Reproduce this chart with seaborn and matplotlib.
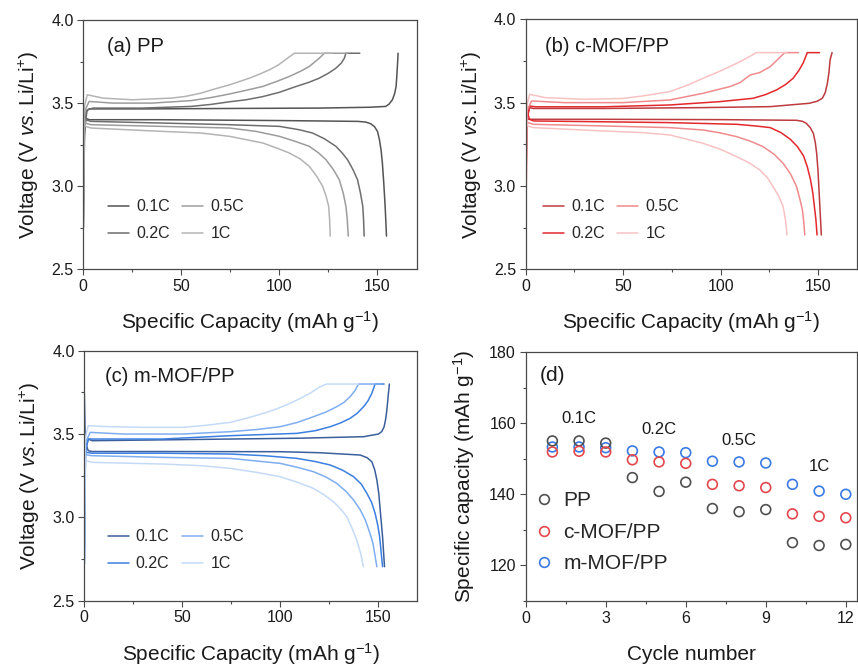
import numpy as np
import pandas as pd
import matplotlib
matplotlib.use("Agg")
import matplotlib.pyplot as plt
from matplotlib.ticker import MultipleLocator, FormatStrFormatter
from matplotlib.lines import Line2D
import seaborn as sns

# ---------------- data ----------------
rates = ["0.1C", "0.2C", "0.5C", "1C"]

# (a) PP
a01_chg_q = [0, 0.6, 1.5, 3, 30, 80, 120, 146, 154.2, 156, 157.6, 158.7, 159.5, 159.9, 160.3, 160.5]
a01_chg_v = [2.75, 3.30, 3.45, 3.465, 3.465, 3.468, 3.47, 3.475, 3.48, 3.495, 3.52, 3.555, 3.60, 3.67, 3.75, 3.80]
a01_dis_q = [0, 1, 3, 40, 100, 140, 144, 146.5, 148.5, 150, 151, 151.8, 152.5, 153.2, 153.9, 154.6]
a01_dis_v = [3.46, 3.41, 3.40, 3.40, 3.395, 3.39, 3.386, 3.376, 3.358, 3.33, 3.28, 3.22, 3.14, 3.02, 2.88, 2.70]
a02_chg_q = [0, 0.6, 2, 5, 30, 55, 65, 74.6, 83, 91.5, 100, 108.5, 115, 120.3, 125, 128.8, 131.5, 133.1, 133.9, 141]
a02_chg_v = [2.75, 3.35, 3.46, 3.47, 3.47, 3.48, 3.492, 3.508, 3.52, 3.539, 3.565, 3.60, 3.625, 3.65, 3.68, 3.71, 3.74, 3.77, 3.80, 3.80]
a02_dis_q = [0, 1, 4, 40, 74.6, 100, 110, 116.9, 123, 128.8, 132, 134.7, 137.5, 139.8, 141.3, 142.5, 142.9, 143.2]
a02_dis_v = [3.45, 3.40, 3.39, 3.38, 3.37, 3.36, 3.34, 3.32, 3.285, 3.24, 3.20, 3.16, 3.10, 3.04, 2.96, 2.88, 2.80, 2.70]
a05_chg_q = [0, 0.6, 3, 15, 35, 55, 65, 74.6, 83, 91.5, 98.5, 105, 110.5, 115.2, 120.3, 122.9, 135]
a05_chg_v = [2.75, 3.45, 3.51, 3.50, 3.50, 3.515, 3.533, 3.555, 3.577, 3.60, 3.63, 3.66, 3.69, 3.72, 3.77, 3.80, 3.80]
a05_dis_q = [0, 1, 4, 40, 74.6, 88, 100, 108, 115.2, 120, 123.7, 127.5, 130.5, 132.5, 133.9, 134.6, 135.1]
a05_dis_v = [3.44, 3.38, 3.37, 3.36, 3.35, 3.33, 3.30, 3.27, 3.24, 3.20, 3.16, 3.10, 3.04, 2.96, 2.88, 2.80, 2.70]
a1_chg_q = [0, 0.6, 2, 10, 25, 45, 52, 60, 67, 74.6, 84.7, 90, 94.9, 99.5, 103.4, 107.6, 127]
a1_chg_v = [2.75, 3.48, 3.55, 3.53, 3.52, 3.53, 3.54, 3.56, 3.585, 3.61, 3.65, 3.675, 3.70, 3.73, 3.764, 3.80, 3.80]
a1_dis_q = [0, 1, 4, 40, 60, 74.6, 91.5, 98.5, 105, 110.5, 115.2, 119, 122, 123.8, 125.1, 125.6, 125.9]
a1_dis_v = [3.42, 3.36, 3.35, 3.33, 3.32, 3.30, 3.26, 3.23, 3.20, 3.165, 3.12, 3.06, 3.00, 2.94, 2.88, 2.80, 2.70]

# (b) c-MOF/PP
b01_chg_q = [0, 0.6, 2, 4, 40, 90, 125.5, 145.4, 149.5, 152.2, 153.7, 154.8, 155.6, 156.2, 157.2]
b01_chg_v = [2.9, 3.40, 3.47, 3.465, 3.465, 3.47, 3.476, 3.496, 3.508, 3.526, 3.56, 3.616, 3.68, 3.756, 3.80]
b01_dis_q = [0, 1, 3, 40, 100, 139, 142, 144, 146, 147.6, 148.6, 149.3, 150, 150.5, 151.1, 151.7]
b01_dis_v = [3.45, 3.40, 3.40, 3.40, 3.398, 3.394, 3.388, 3.376, 3.35, 3.316, 3.26, 3.196, 3.09, 2.976, 2.84, 2.706]
b02_chg_q = [0, 0.6, 2, 5, 40, 74, 99.6, 116.7, 123, 128.7, 133.5, 137.2, 140, 142.3, 144.5, 150.8]
b02_chg_v = [2.62, 3.40, 3.48, 3.475, 3.475, 3.486, 3.506, 3.526, 3.548, 3.576, 3.61, 3.646, 3.69, 3.736, 3.80, 3.80]
b02_dis_q = [0, 0.5, 2, 4, 40, 74, 108.2, 118, 125.5, 131, 135.8, 139.5, 142.6, 144.5, 146.1, 147.3, 148.1, 148.9, 149.5]
b02_dis_v = [3.65, 3.45, 3.40, 3.39, 3.385, 3.38, 3.37, 3.36, 3.35, 3.32, 3.28, 3.235, 3.18, 3.115, 3.04, 2.96, 2.88, 2.80, 2.706]
b05_chg_q = [0, 0.6, 3, 20, 50, 74, 91, 104.7, 110, 115.2, 120, 125.5, 132.9, 140]
b05_chg_v = [2.9, 3.45, 3.51, 3.50, 3.50, 3.516, 3.556, 3.596, 3.62, 3.666, 3.68, 3.716, 3.80, 3.80]
b05_dis_q = [0, 1, 4, 40, 74, 91, 100, 108.2, 115, 121.8, 127.5, 132.1, 136, 139, 140.7, 142, 142.7, 143.2]
b05_dis_v = [3.44, 3.38, 3.37, 3.36, 3.35, 3.336, 3.318, 3.296, 3.27, 3.236, 3.19, 3.136, 3.07, 2.996, 2.92, 2.856, 2.78, 2.706]
b1_chg_q = [0, 0.6, 2, 10, 30, 50, 60, 74, 83, 91, 98, 104.7, 109, 113.3, 118.4, 134]
b1_chg_v = [2.9, 3.48, 3.55, 3.53, 3.52, 3.525, 3.54, 3.566, 3.605, 3.646, 3.68, 3.716, 3.74, 3.766, 3.80, 3.80]
b1_dis_q = [0, 1, 4, 40, 60, 74, 91, 100, 108.2, 114.5, 120.1, 124, 126.9, 129.8, 132.1, 133.4, 134.1]
b1_dis_v = [3.42, 3.36, 3.35, 3.33, 3.32, 3.306, 3.256, 3.22, 3.176, 3.14, 3.096, 3.05, 2.996, 2.94, 2.876, 2.79, 2.706]

# (c) m-MOF/PP
c01_chg_q = [0, 0.6, 2, 4, 40, 74.5, 110, 142.7, 150.3, 152, 153.2, 154, 154.6, 155.4, 155.9]
c01_chg_v = [2.72, 3.40, 3.47, 3.46, 3.465, 3.47, 3.475, 3.484, 3.50, 3.515, 3.544, 3.59, 3.644, 3.744, 3.80]
c01_dis_q = [0, 0.5, 2, 4, 40, 100, 120, 141, 144.5, 146.9, 148.4, 149.5, 150.5, 151.2, 152.4, 153.4]
c01_dis_v = [3.75, 3.45, 3.40, 3.395, 3.395, 3.394, 3.388, 3.374, 3.358, 3.334, 3.285, 3.224, 3.14, 3.044, 2.884, 2.704]
c02_chg_q = [0, 0.6, 2, 5, 40, 74.5, 108.6, 118, 125.7, 131, 135.8, 139.5, 142.7, 145, 146.9, 148.6, 153.2]
c02_chg_v = [2.72, 3.40, 3.47, 3.47, 3.47, 3.49, 3.504, 3.52, 3.544, 3.567, 3.594, 3.625, 3.664, 3.70, 3.744, 3.80, 3.80]
c02_dis_q = [0, 1, 4, 40, 74.5, 92, 108.6, 118, 125.7, 132, 137.6, 141.5, 144.4, 146.8, 148.6, 150, 150.9, 152.4]
c02_dis_v = [3.44, 3.39, 3.385, 3.385, 3.38, 3.37, 3.354, 3.335, 3.314, 3.283, 3.244, 3.20, 3.144, 3.09, 3.024, 2.95, 2.884, 2.704]
c05_chg_q = [0, 0.6, 3, 20, 50, 74.5, 88, 100.1, 109, 117.1, 123.5, 129, 132.7, 135.8, 138.3, 140.1, 152]
c05_chg_v = [2.72, 3.45, 3.51, 3.50, 3.50, 3.514, 3.527, 3.544, 3.57, 3.604, 3.632, 3.664, 3.69, 3.724, 3.76, 3.80, 3.80]
c05_dis_q = [0, 1, 4, 40, 74.5, 100.1, 109, 117.1, 123.5, 129, 133.8, 137.6, 141, 143.6, 145.8, 147.5, 149.5]
c05_dis_v = [3.43, 3.375, 3.37, 3.36, 3.354, 3.324, 3.30, 3.274, 3.242, 3.204, 3.155, 3.104, 3.045, 2.984, 2.91, 2.844, 2.704]
c1_chg_q = [0, 0.6, 2, 10, 30, 50, 62, 74.5, 83, 91.5, 98.5, 105.1, 110.5, 115.3, 120.5, 123.9, 140]
c1_chg_v = [2.72, 3.48, 3.55, 3.545, 3.54, 3.54, 3.552, 3.57, 3.595, 3.624, 3.652, 3.684, 3.715, 3.744, 3.784, 3.80, 3.80]
c1_dis_q = [0, 1, 4, 40, 60, 74.5, 88, 100.1, 109, 117.1, 122.5, 127.3, 131, 134.1, 137, 139.2, 141.3, 142.6]
c1_dis_v = [3.40, 3.34, 3.33, 3.32, 3.31, 3.294, 3.27, 3.244, 3.21, 3.174, 3.135, 3.094, 3.05, 3.004, 2.93, 2.864, 2.78, 2.704]

# (d) rate capability
cycles = [1, 2, 3, 4, 5, 6, 7, 8, 9, 10, 11, 12]
pp_cap = [155.0, 155.0, 154.4, 144.7, 140.8, 143.4, 136.0, 135.1, 135.7, 126.4, 125.6, 125.9]
cmof_cap = [151.9, 152.1, 151.9, 149.7, 149.1, 148.7, 142.8, 142.4, 141.9, 134.5, 133.8, 133.4]
mmof_cap = [153.3, 153.3, 153.1, 152.2, 151.9, 151.7, 149.3, 149.1, 148.8, 142.8, 140.9, 140.0]
rate_text = ["0.1C", "0.2C", "0.5C", "1C"]
rate_text_x = [2, 5, 8, 11]
rate_text_y = [161.2, 158.3, 155.2, 147.7]

# ---------------- style ----------------
sns.set_theme(style="ticks")
plt.rcParams["font.family"] = ["Liberation Sans", "DejaVu Sans"]
plt.rcParams["mathtext.fontset"] = "custom"
plt.rcParams["mathtext.rm"] = "Liberation Sans"
plt.rcParams["mathtext.it"] = "Liberation Sans:italic"
plt.rcParams["mathtext.bf"] = "Liberation Sans:bold"
plt.rcParams["axes.unicode_minus"] = True

TXT = "#1a1a1a"
SP = "#4a4a4a"

pal_a = ["#545454", "#6e6e6e", "#9c9c9c", "#b4b4b4"]
pal_b = ["#bd3a3f", "#e2282c", "#f08a8c", "#f8c2c3"]
pal_c = ["#3b5f9c", "#3c7fe0", "#7eaef0", "#c4dbf7"]

fig = plt.figure(figsize=(8.58, 6.68), dpi=100)
W, H = 858.0, 668.0


def add_ax(l, t, r, b):
    return fig.add_axes([l / W, 1 - b / H, (r - l) / W, (b - t) / H])


axA = add_ax(83.3, 20.0, 416.7, 269.3)
axB = add_ax(525.7, 19.3, 857.0, 269.3)
axC = add_ax(84.3, 350.7, 417.0, 600.7)
axD = add_ax(525.7, 352.0, 857.0, 601.0)


def build_df(curves):
    rows = []
    for rate, seg, q, v in curves:
        for qi, vi in zip(q, v):
            rows.append((rate, f"{rate}-{seg}", qi, vi))
    return pd.DataFrame(rows, columns=["rate", "seg", "q", "v"])


dfA = build_df([
    ("0.1C", "c", a01_chg_q, a01_chg_v), ("0.1C", "d", a01_dis_q, a01_dis_v),
    ("0.2C", "c", a02_chg_q, a02_chg_v), ("0.2C", "d", a02_dis_q, a02_dis_v),
    ("0.5C", "c", a05_chg_q, a05_chg_v), ("0.5C", "d", a05_dis_q, a05_dis_v),
    ("1C", "c", a1_chg_q, a1_chg_v), ("1C", "d", a1_dis_q, a1_dis_v),
])
dfB = build_df([
    ("0.1C", "c", b01_chg_q, b01_chg_v), ("0.1C", "d", b01_dis_q, b01_dis_v),
    ("0.2C", "c", b02_chg_q, b02_chg_v), ("0.2C", "d", b02_dis_q, b02_dis_v),
    ("0.5C", "c", b05_chg_q, b05_chg_v), ("0.5C", "d", b05_dis_q, b05_dis_v),
    ("1C", "c", b1_chg_q, b1_chg_v), ("1C", "d", b1_dis_q, b1_dis_v),
])
dfC = build_df([
    ("0.1C", "c", c01_chg_q, c01_chg_v), ("0.1C", "d", c01_dis_q, c01_dis_v),
    ("0.2C", "c", c02_chg_q, c02_chg_v), ("0.2C", "d", c02_dis_q, c02_dis_v),
    ("0.5C", "c", c05_chg_q, c05_chg_v), ("0.5C", "d", c05_dis_q, c05_dis_v),
    ("1C", "c", c1_chg_q, c1_chg_v), ("1C", "d", c1_dis_q, c1_dis_v),
])


def style_axes(ax):
    for s in ax.spines.values():
        s.set_color(SP)
        s.set_linewidth(0.9)
    ax.tick_params(which="both", direction="out", colors=SP, labelcolor=TXT,
                   labelsize=11.5, width=0.8, top=False, right=False)
    ax.tick_params(which="major", length=4, pad=3)
    ax.tick_params(which="minor", length=2.5)


def volt_panel(ax, df, pal, title, tx, ty, lx, ly):
    sns.lineplot(data=df, x="q", y="v", hue="rate", units="seg", estimator=None,
                 sort=False, palette=pal, hue_order=rates, linewidth=1.1, ax=ax,
                 legend=True)
    ax.set_xlim(0, 170)
    ax.set_ylim(2.5, 4.0)
    ax.xaxis.set_major_locator(MultipleLocator(50))
    ax.xaxis.set_minor_locator(MultipleLocator(25))
    ax.yaxis.set_major_locator(MultipleLocator(0.5))
    ax.yaxis.set_minor_locator(MultipleLocator(0.25))
    ax.yaxis.set_major_formatter(FormatStrFormatter("%.1f"))
    ax.set_xlabel("Specific Capacity (mAh g$^{-1}$)", fontsize=15, color=TXT, labelpad=11)
    ax.set_ylabel(r"Voltage (V $\mathit{vs.}$Li/Li$^{+}$)", fontsize=15, color=TXT, labelpad=7)
    style_axes(ax)
    h, l = ax.get_legend_handles_labels()
    ax.legend(h, l, ncol=2, loc="upper left", bbox_to_anchor=(lx, ly), frameon=False,
              fontsize=11.5, handlelength=1.3, handletextpad=0.45, columnspacing=0.8,
              labelspacing=0.75, borderpad=0, borderaxespad=0)
    ax.text(tx, ty, title, transform=ax.transAxes, fontsize=14.5, color=TXT,
            ha="left", va="center")


volt_panel(axA, dfA, pal_a, "(a) PP", 0.071, 0.892, 0.074, 0.28)
volt_panel(axB, dfB, pal_b, "(b) c-MOF/PP", 0.058, 0.892, 0.052, 0.28)
volt_panel(axC, dfC, pal_c, "(c) m-MOF/PP", 0.062, 0.895, 0.071, 0.285)

# ---------------- (d) ----------------
dfD = pd.DataFrame({"cycle": cycles * 3,
                    "cap": pp_cap + cmof_cap + mmof_cap,
                    "sep": ["PP"] * 12 + ["c-MOF/PP"] * 12 + ["m-MOF/PP"] * 12})
colD = {"PP": "#4f4f4f", "c-MOF/PP": "#e2474e", "m-MOF/PP": "#3a7ae2"}
for name in ["m-MOF/PP", "PP", "c-MOF/PP"]:
    sub = dfD[dfD["sep"] == name]
    sns.scatterplot(data=sub, x="cycle", y="cap", ax=axD, s=50, marker="o",
                    facecolor="none", edgecolor=colD[name], linewidth=1.2,
                    legend=False)
axD.set_xlim(0, 12.42)
axD.set_ylim(110, 180)
axD.xaxis.set_major_locator(MultipleLocator(3))
axD.xaxis.set_minor_locator(MultipleLocator(1.5))
axD.yaxis.set_major_locator(MultipleLocator(20))
axD.yaxis.set_minor_locator(MultipleLocator(10))
axD.set_xlabel("Cycle number", fontsize=15, color=TXT, labelpad=14)
axD.set_ylabel("Specific capacity (mAh g$^{-1}$)", fontsize=15, color=TXT, labelpad=9)
style_axes(axD)
for t, x, y in zip(rate_text, rate_text_x, rate_text_y):
    axD.text(x, y, t, fontsize=12, color=TXT, ha="center", va="center")
axD.text(0.043, 0.905, "(d)", transform=axD.transAxes, fontsize=15, color=TXT,
         ha="left", va="center")
handles = [Line2D([], [], ls="none", marker="o", markersize=7, markerfacecolor="none",
                  markeredgecolor=colD[n], markeredgewidth=1.2) for n in ["PP", "c-MOF/PP", "m-MOF/PP"]]
axD.legend(handles, ["PP", "c-MOF/PP", "m-MOF/PP"], loc="upper left",
           bbox_to_anchor=(0.025, 0.44), frameon=False, fontsize=15,
           handlelength=1.0, handletextpad=0.4, labelspacing=0.6,
           borderpad=0, borderaxespad=0)

fig.savefig("out.png", dpi=100)
